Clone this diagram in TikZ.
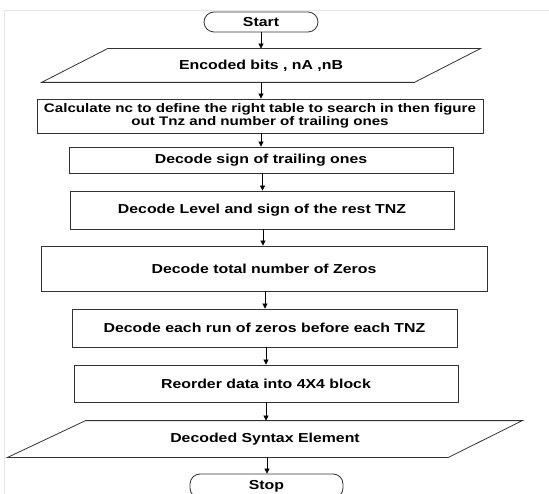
\documentclass[tikz,border=0pt]{standalone}
\usepackage{fontspec}
\setmainfont{Liberation Sans}[FakeStretch=1.22]
\usetikzlibrary{arrows.meta}
\tikzset{
  box/.style={draw=black!80, line width=0.8pt, inner sep=0pt, align=center,
    font=\fontsize{13}{13}\selectfont\bfseries},
  slanted/.style={box, draw=none},
  term/.style={box, rounded corners=10pt},
  flow/.style={line width=0.7pt, -{Triangle[length=5pt, width=5pt]}}
}

\begin{document}
\begin{tikzpicture}[x=1pt, y=-1pt]
    \useasboundingbox (0,0) rectangle (549,494);
    \draw [gray!20] (4,494) -- (4,10) -- (549,10);

    \node (start) [term, minimum width=114pt, minimum height=20pt] at (261, 22) {Start};
    \node (input) [slanted, minimum width=438pt, minimum height=33pt] at (261, 65.5) {Encoded bits , nA ,nB};
    \node (calc) [box, minimum width=446pt, minimum height=34pt, font=\fontsize{12.4}{13.2}\selectfont\bfseries] at (260, 116)
        {Calculate nc to define the right table to search in then figure\\out Tnz and number of trailing ones};
    \node (sign) [box, minimum width=384pt, minimum height=26pt] at (261, 160) {Decode sign of trailing ones};
    \node (level) [box, minimum width=384pt, minimum height=38pt] at (262, 210) {Decode Level and sign of the rest TNZ};
    \node (zeros) [box, minimum width=446pt, minimum height=45pt] at (264, 268.5) {Decode total number of Zeros};
    \node (runs) [box, minimum width=385pt, minimum height=38pt] at (264.5, 328) {Decode each run of zeros before each TNZ};
    \node (reorder) [box, minimum width=384pt, minimum height=37pt] at (266, 383.5) {Reorder data into 4X4 block};
    \node (output) [slanted, minimum width=514pt, minimum height=36pt] at (265, 439) {Decoded Syntax Element};
    \node (stop) [term, minimum width=153pt, minimum height=24pt] at (266.5, 486) {Stop};

    \draw [black!80, line width=0.8pt] ([xshift=66pt]input.north west) -- (input.north east)
        -- ([xshift=-66pt]input.south east) -- (input.south west) -- cycle;
    \draw [black!80, line width=0.8pt] ([xshift=78pt]output.north west) -- (output.north east)
        -- ([xshift=-74pt]output.south east) -- (output.south west) -- cycle;

    \draw (start.south) edge [flow] (start.south |- input.north);
    \draw (input.south) edge [flow] (input.south |- calc.north);
    \draw ([xshift=1pt]calc.south) edge [flow] ([xshift=1pt]calc.south |- sign.north);
    \draw ([xshift=1.5pt]sign.south) edge [flow] ([xshift=1.5pt]sign.south |- level.north);
    \draw ([xshift=1pt]level.south) edge [flow] ([xshift=1pt]level.south |- zeros.north);
    \draw ([xshift=1pt]zeros.south) edge [flow] ([xshift=1pt]zeros.south |- runs.north);
    \draw ([xshift=1.5pt]runs.south) edge [flow] ([xshift=1.5pt]runs.south |- reorder.north);
    \draw (reorder.south) edge [flow] (reorder.south |- output.north);
    \draw ([xshift=2pt]output.south) edge [flow] ([xshift=2pt]output.south |- stop.north);
\end{tikzpicture}
\end{document}
